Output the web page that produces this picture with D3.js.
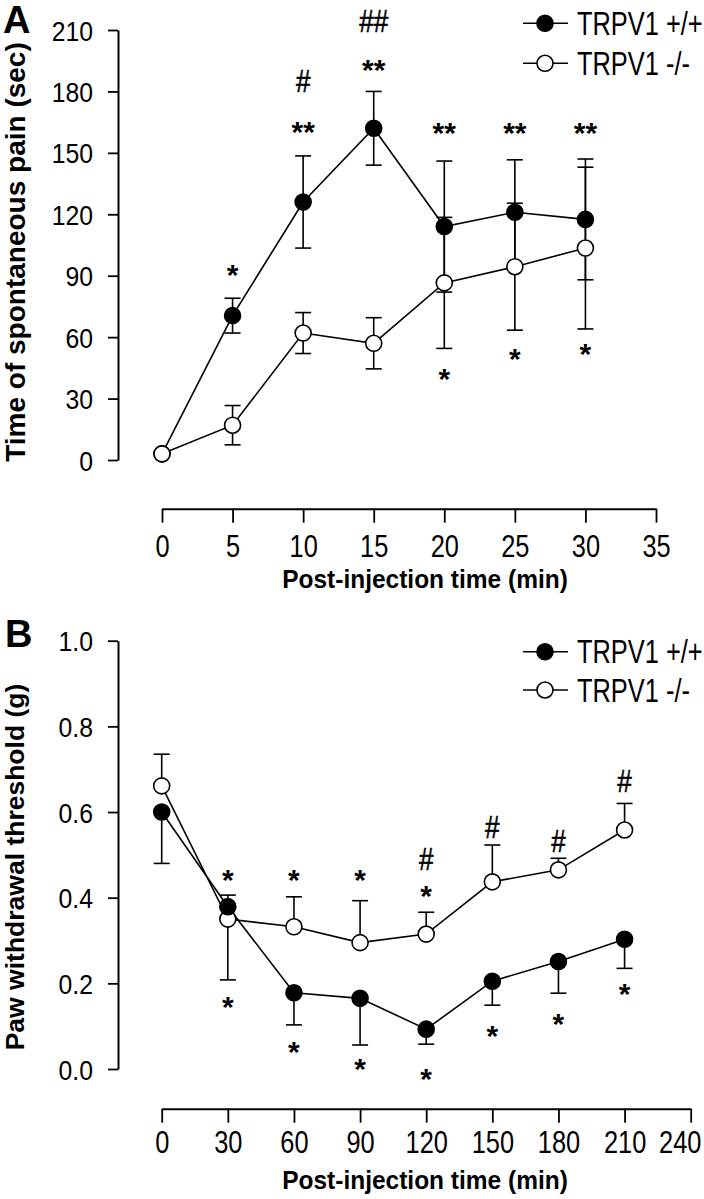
<!DOCTYPE html>
<html>
<head>
<meta charset="utf-8">
<script src="https://cdn.jsdelivr.net/npm/d3@7"></script>
<style>
  html, body { margin: 0; padding: 0; background: #fff; }
  svg { display: block; }
  text { font-family: "Liberation Sans", Arial, Helvetica, sans-serif; fill: #000; }
</style>
</head>
<body>
<svg id="chart" width="704" height="1199"></svg>
<script>
// ---------------- DATA ----------------
const seriesNames = ["TRPV1 +/+", "TRPV1 -/-"];

// Panel A: spontaneous pain (sec)
const timesA = [0, 5, 10, 15, 20, 25, 30];
const wtA    = [3, 70.5, 126, 162, 114, 121, 117.5];
const wtErrA = [0, 8.5, 22.5, 18, 32, 25.6, 29.5];
const koA    = [3, 17, 62, 57, 86.5, 94.4, 103.5];
const koErrA = [0, 9.6, 10, 12.5, 32, 31, 39.5];
const yTicksA = [0, 30, 60, 90, 120, 150, 180, 210];
const xTicksA = [0, 5, 10, 15, 20, 25, 30, 35];
const annotA = [
  { t: 5,  label: "*",  v: 93.8 },
  { t: 10, label: "#",  v: 184.6 },
  { t: 10, label: "**", v: 163.6 },
  { t: 15, label: "##", v: 213.9 },
  { t: 15, label: "**", v: 193.9 },
  { t: 20, label: "**", v: 163.1 },
  { t: 25, label: "**", v: 163.1 },
  { t: 30, label: "**", v: 163.1 },
  { t: 20, label: "*",  v: 43.1 },
  { t: 25, label: "*",  v: 52.7 },
  { t: 30, label: "*",  v: 55.3 }
];

// Panel B: paw withdrawal threshold (g)
const timesB = [0, 30, 60, 90, 120, 150, 180, 210];
const wtB    = [0.600, 0.379, 0.178, 0.165, 0.093, 0.205, 0.251, 0.303];
const wtErrB = [0.120, 0.171, 0.075, 0.109, 0.035, 0.056, 0.074, 0.068]; // drawn downward
const koB    = [0.661, 0.350, 0.332, 0.295, 0.315, 0.437, 0.465, 0.558];
const koErrB = [0.074, 0.056, 0.070, 0.098, 0.051, 0.086, 0.027, 0.062]; // drawn upward
const yTicksB = [0.0, 0.2, 0.4, 0.6, 0.8, 1.0];
const xTicksB = [0, 30, 60, 90, 120, 150, 180, 210, 240];
const annotB = [
  { t: 30,  label: "*", v: 0.458 },
  { t: 60,  label: "*", v: 0.458 },
  { t: 90,  label: "*", v: 0.458 },
  { t: 120, label: "#", v: 0.488 },
  { t: 120, label: "*", v: 0.421 },
  { t: 150, label: "#", v: 0.563 },
  { t: 180, label: "#", v: 0.531 },
  { t: 210, label: "#", v: 0.671 },
  { t: 30,  label: "*", v: 0.161 },
  { t: 60,  label: "*", v: 0.056 },
  { t: 90,  label: "*", v: 0.017 },
  { t: 120, label: "*", v: -0.006 },
  { t: 150, label: "*", v: 0.093 },
  { t: 180, label: "*", v: 0.122 },
  { t: 210, label: "*", v: 0.191 }
];

// ---------------- DRAWING ----------------
const svg = d3.select("#chart");
const W = 704;

function label(g, x, y, s, o) {
  o = o || {};
  return g.append("text")
    .attr("transform", `translate(${x},${y})` + (o.rot ? ` rotate(${o.rot})` : "") + ` scale(${o.sx || 1},${o.sy || 1})`)
    .attr("text-anchor", o.anchor || "start")
    .attr("font-size", o.size || 24)
    .attr("font-weight", o.weight || "normal")
    .text(s);
}

function panel(cfg) {
  const g = svg.append("g");
  const x = d3.scaleLinear().domain(cfg.xDomain).range([cfg.x0, cfg.x1]);
  const y = d3.scaleLinear().domain(cfg.yDomain).range([cfg.yBot, cfg.yTop]);

  // y axis
  const ya = g.append("g").attr("transform", `translate(${cfg.axisX},0)`)
    .call(d3.axisLeft(y).tickValues(cfg.yTicks).tickSizeInner(10).tickSizeOuter(0).tickFormat(cfg.yFmt));
  ya.select(".domain").attr("stroke-width", 2);
  ya.selectAll(".tick line").attr("stroke-width", 1.8);
  ya.selectAll(".tick text").remove();
  ya.selectAll(".tick").each(function (d) {
    label(d3.select(this), -25, 10, cfg.yFmt(d), { anchor: "end", size: 27.5, sx: 0.9, sy: 1.02 });
  });

  // x axis
  const xa = g.append("g").attr("transform", `translate(0,${cfg.xAxisY})`)
    .call(d3.axisBottom(x).tickValues(cfg.xTicks).tickSizeInner(14).tickSizeOuter(0));
  xa.select(".domain").attr("stroke-width", 2);
  xa.selectAll(".tick line").attr("stroke-width", 1.8);
  xa.selectAll(".tick text").remove();
  xa.selectAll(".tick").each(function (d) {
    const px = x(d);
    const half = String(d).length * 0.556 * 31 * 0.82 / 2;
    const shift = Math.min(0, (W - 3) - (px + half));
    label(d3.select(this), shift, cfg.xLabelDy, String(d), { anchor: "middle", size: 31, sx: 0.82 });
  });

  // titles
  label(g, cfg.xTitleCX, cfg.xTitleY, "Post-injection time (min)", { anchor: "middle", size: 24.5, weight: "bold", sy: 1.08 });
  label(g, cfg.yTitleX, cfg.yTitleCY, cfg.yTitle, { anchor: "middle", size: cfg.yTitleSize, weight: "bold", rot: -90 });
  label(g, cfg.letterX, cfg.letterY, cfg.letter, { size: 38, weight: "bold" });

  const series = [
    { name: seriesNames[0], t: cfg.times, v: cfg.wt, eu: cfg.wtErrUp, ed: cfg.wtErrDown, fill: "#000" },
    { name: seriesNames[1], t: cfg.times, v: cfg.ko, eu: cfg.koErrUp, ed: cfg.koErrDown, fill: "#fff" }
  ];
  const line = d3.line().x(d => x(d[0])).y(d => y(d[1]));
  const capW = 8;

  // error bars
  series.forEach(s => {
    s.t.forEach((t, i) => {
      const cx = x(t), cy = y(s.v[i]);
      const eu = s.eu ? s.eu[i] : 0, ed = s.ed ? s.ed[i] : 0;
      [[eu, 1], [ed, -1]].forEach(([e, dir]) => {
        if (e > 0) {
          const ye = y(s.v[i] + dir * e);
          g.append("line").attr("x1", cx).attr("x2", cx).attr("y1", cy).attr("y2", ye).attr("stroke", "#000").attr("stroke-width", 1.6);
          g.append("line").attr("x1", cx - capW).attr("x2", cx + capW).attr("y1", ye).attr("y2", ye).attr("stroke", "#000").attr("stroke-width", 1.6);
        }
      });
    });
  });
  // lines
  series.forEach(s => {
    g.append("path").datum(s.t.map((t, i) => [t, s.v[i]]))
      .attr("d", line).attr("fill", "none").attr("stroke", "#000").attr("stroke-width", 1.6);
  });
  // markers
  cfg.order.forEach(k => {
    const s = series[k];
    g.selectAll(null).data(s.t.map((t, i) => [t, s.v[i]])).enter().append("circle")
      .attr("cx", d => x(d[0])).attr("cy", d => y(d[1])).attr("r", 8)
      .attr("fill", s.fill).attr("stroke", "#000").attr("stroke-width", 1.6);
  });

  // annotations
  cfg.annot.forEach(a => {
    const cx = x(a.t), cy = y(a.v);
    if (a.label.includes("*")) {
      label(g, cx, cy + 17, a.label, { anchor: "middle", size: 30, weight: "bold" });
    } else {
      label(g, cx, cy + 10, a.label, { anchor: "middle", size: 29, sx: 0.9, sy: 1.08 })
        .attr("stroke", "#000").attr("stroke-width", 0.5);
    }
  });

  // legend
  series.forEach((s, i) => {
    const ly = cfg.legendY + i * cfg.legendGap;
    g.append("line").attr("x1", 523).attr("x2", 568).attr("y1", ly).attr("y2", ly).attr("stroke", "#000").attr("stroke-width", 1.6);
    g.append("circle").attr("cx", 545).attr("cy", ly).attr("r", 8).attr("fill", s.fill).attr("stroke", "#000").attr("stroke-width", 1.6);
    label(g, 577, ly + 11.5, s.name, { size: 31, sx: 0.82, sy: 1.06 });
  });
}

panel({
  letter: "A", letterX: 3, letterY: 33,
  xDomain: [0, 35], x0: 162, x1: 656,
  yDomain: [0, 210], yTop: 30, yBot: 460,
  axisX: 118, xAxisY: 508.7, xLabelDy: 48.5, xTitleY: 588, xTitleCX: 425,
  yTicks: yTicksA, xTicks: xTicksA, yFmt: d3.format("d"),
  yTitle: "Time of spontaneous pain (sec)", yTitleX: 24.5, yTitleCY: 252, yTitleSize: 28,
  times: timesA, wt: wtA, wtErrUp: wtErrA, wtErrDown: wtErrA,
  ko: koA, koErrUp: koErrA, koErrDown: koErrA,
  order: [0, 1], annot: annotA,
  legendY: 23.3, legendGap: 40
});

panel({
  letter: "B", letterX: 5, letterY: 647,
  xDomain: [0, 240], x0: 161.7, x1: 690.7,
  yDomain: [0, 1], yTop: 640.7, yBot: 1069,
  axisX: 118, xAxisY: 1108.7, xLabelDy: 44.5, xTitleY: 1189, xTitleCX: 425,
  yTicks: yTicksB, xTicks: xTicksB, yFmt: d3.format(".1f"),
  yTitle: "Paw withdrawal threshold (g)", yTitleX: 24, yTitleCY: 867, yTitleSize: 26.5,
  times: timesB, wt: wtB, wtErrUp: null, wtErrDown: wtErrB,
  ko: koB, koErrUp: koErrB, koErrDown: null,
  order: [1, 0], annot: annotB,
  legendY: 651.7, legendGap: 38.3
});
</script>
</body>
</html>
